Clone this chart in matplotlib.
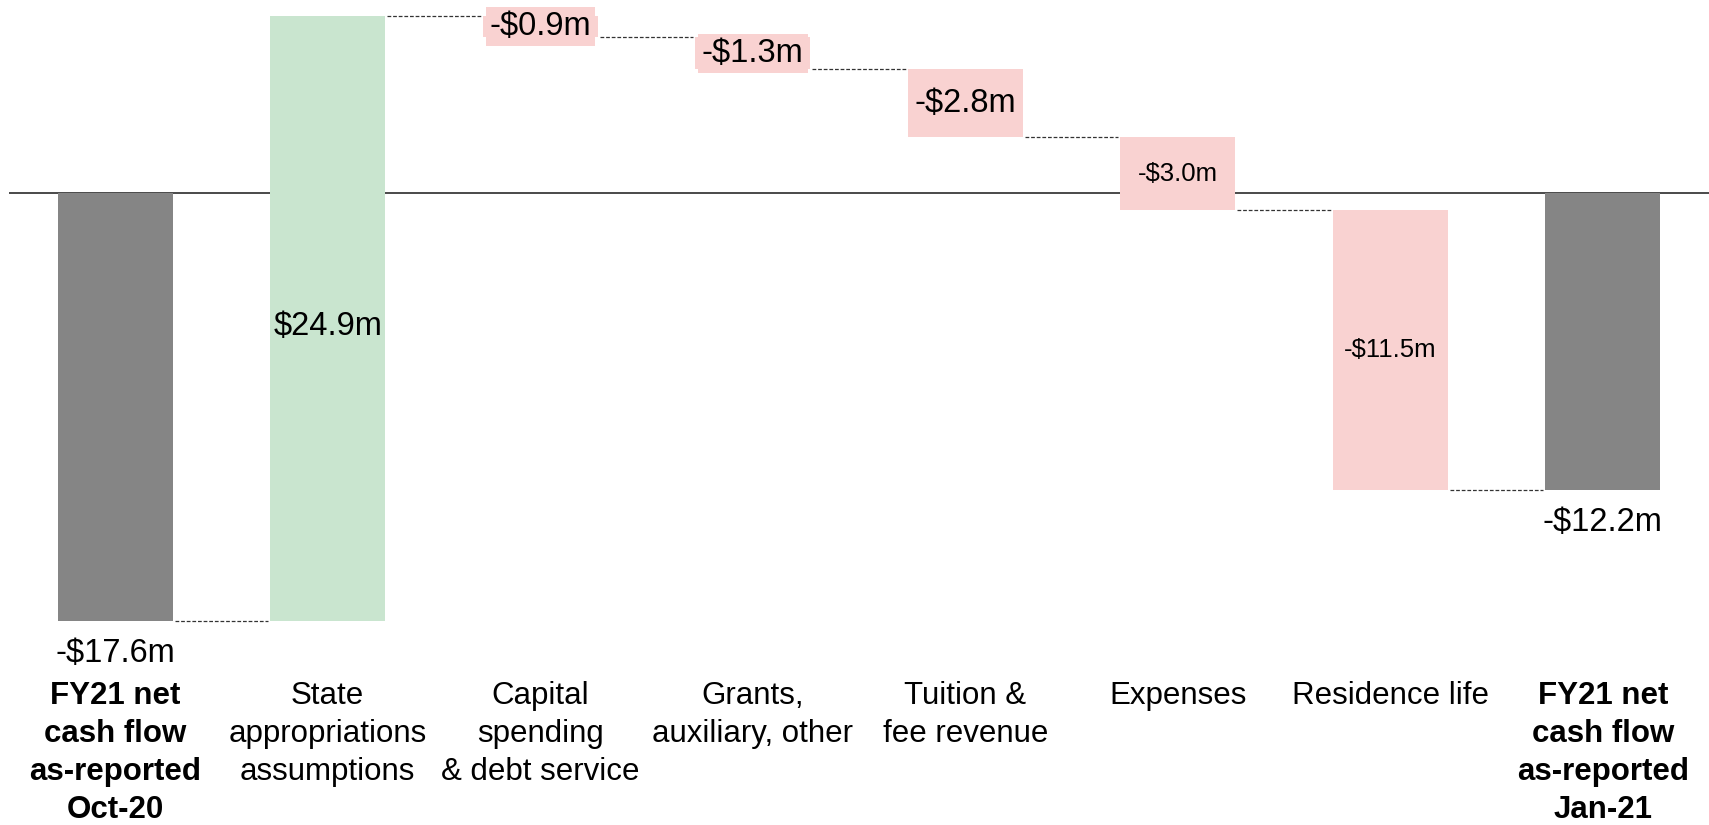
import matplotlib
matplotlib.use("Agg")
import matplotlib.pyplot as plt
import matplotlib.transforms as mtransforms

plt.rcParams['font.family'] = ['Liberation Sans', 'DejaVu Sans']

# Waterfall data ($m)
categories = [
    "FY21 net\ncash flow\nas-reported\nOct-20",
    "State\nappropriations\nassumptions",
    "Capital\nspending\n& debt service",
    "Grants,\nauxiliary, other",
    "Tuition &\nfee revenue",
    "Expenses",
    "Residence life",
    "FY21 net\ncash flow\nas-reported\nJan-21",
]
start_total = -17.6
changes = [24.9, -0.9, -1.3, -2.8, -3.0, -11.5]
end_total = -12.2

GREY = "#858585"
GREEN = "#C9E5CF"
PINK = "#F9D2D1"
WIDTH = 0.54

fig = plt.figure(figsize=(17.09, 8.25), dpi=100)
ax = fig.add_axes([9 / 1709, 0, 1 - 9 / 1709, 1])
ax.set_xlim(-0.5, 7.5)
ax.set_ylim(-25.99, 7.94)
ax.axis("off")


def money(v):
    return ("-" if v < 0 else "") + "${:.1f}m".format(abs(v))


# zero line
ax.axhline(0, color="#3c3c3c", lw=1.3, zorder=1)

# bars
running = start_total
levels = [start_total]
ax.bar(0, start_total, width=WIDTH, color=GREY, zorder=2)
for i, d in enumerate(changes, start=1):
    ax.bar(i, d, bottom=running, width=WIDTH,
           color=GREEN if d > 0 else PINK, zorder=2)
    running += d
    levels.append(running)
ax.bar(7, end_total, width=WIDTH, color=GREY, zorder=2)
levels.append(end_total)

# dashed connectors between neighbouring bars
for i in range(7):
    ax.plot([i + WIDTH / 2 + 0.01, i + 1 - WIDTH / 2 - 0.01], [levels[i], levels[i]],
            color="#333333", lw=0.9, ls=(0, (3, 1.5)), zorder=1)

# value labels
big = 23.5
small = 18.5
below = mtransforms.offset_copy(ax.transData, fig=fig, x=0, y=-33, units="dots")
ax.text(0, start_total, money(start_total), ha="center", va="center",
        fontsize=big, transform=below, zorder=3)
ax.text(7, end_total, money(end_total), ha="center", va="center",
        fontsize=big, transform=below, zorder=3)

running = start_total
for i, d in enumerate(changes, start=1):
    mid = running + d / 2
    size = small if i in (5, 6) else big
    kw = {}
    if d < 0:
        kw["bbox"] = dict(boxstyle="square,pad=0.12", fc=PINK, ec="none")
    tr = ax.transData
    if d > 0:
        # long positive bar: label sits a little below the middle
        tr = mtransforms.offset_copy(ax.transData, fig=fig, x=0, y=-8, units="dots")
    ax.text(i, mid, money(d), ha="center", va="center", fontsize=size,
            zorder=3, transform=tr, **kw)
    running += d

# category labels under the bars
lab_tr = mtransforms.blended_transform_factory(ax.transData, fig.transFigure)
for i, name in enumerate(categories):
    bold = i in (0, 7)
    ax.text(i, 1 - 681 / 825, name, ha="center", va="top", fontsize=22.5,
            fontweight="bold" if bold else "normal", linespacing=1.35,
            transform=lab_tr)

fig.savefig("out.png", dpi=100, facecolor="white")
